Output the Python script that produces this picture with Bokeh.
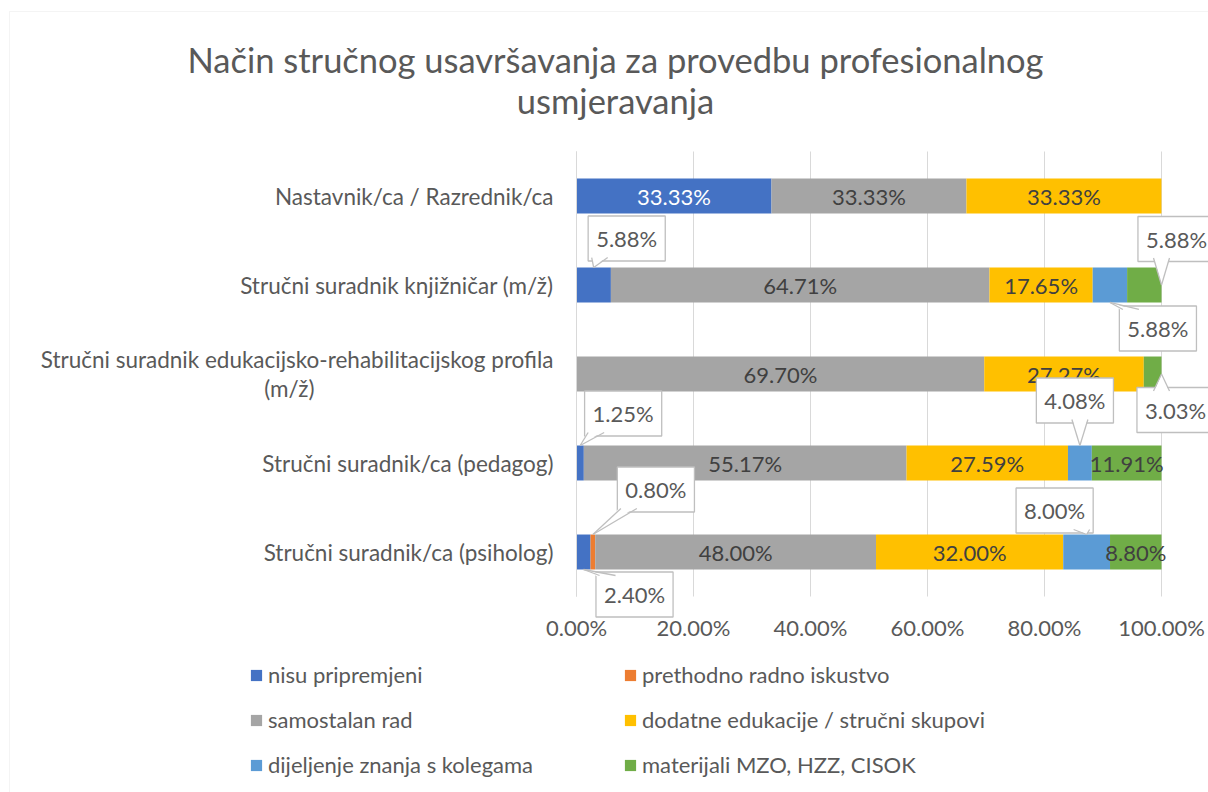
from bokeh.plotting import figure
from bokeh.models import (Range1d, FixedTicker, PrintfTickFormatter, Label, LinearAxis,
                          Legend, LegendItem, PolyAnnotation, Arrow, ColumnDataSource)
from bokeh.core.properties import value
from bokeh.embed import file_html
from bokeh.resources import INLINE

# ---------------- data ----------------
title_text = "Način stručnog usavršavanja za provedbu profesionalnog\nusmjeravanja"
categories = [
    "Nastavnik/ca / Razrednik/ca",
    "Stručni suradnik knjižničar (m/ž)",
    "Stručni suradnik edukacijsko-rehabilitacijskog profila\n(m/ž)",
    "Stručni suradnik/ca (pedagog)",
    "Stručni suradnik/ca (psiholog)",
]
series_names = [
    "nisu pripremjeni",
    "prethodno radno iskustvo",
    "samostalan rad",
    "dodatne edukacije / stručni skupovi",
    "dijeljenje znanja s kolegama",
    "materijali MZO, HZZ, CISOK",
]
nisu_pripremjeni = [33.33, 5.88, 0.0, 1.25, 2.40]
prethodno_iskustvo = [0.0, 0.0, 0.0, 0.0, 0.80]
samostalan_rad = [33.33, 64.71, 69.70, 55.17, 48.00]
dodatne_edukacije = [33.33, 17.65, 27.27, 27.59, 32.00]
dijeljenje_znanja = [0.0, 5.88, 0.0, 4.08, 8.00]
materijali = [0.0, 5.88, 3.03, 11.91, 8.80]
x_ticks = [0, 20, 40, 60, 80, 100]

series_values = [nisu_pripremjeni, prethodno_iskustvo, samostalan_rad,
                 dodatne_edukacije, dijeljenje_znanja, materijali]
colors = ["#4472C4", "#ED7D31", "#A5A5A5", "#FFC000", "#5B9BD5", "#70AD47"]

# callout placement (category index, series index, anchor, dx px, dy px downward)
callouts = [
    (1, 0, "top", 33, -29),
    (1, 5, "end", 15, -46),
    (1, 4, "bottom", 48, 26),
    (2, 5, "end", 14, 36),
    (3, 0, "top", 43, -32),
    (3, 4, "top", -5, -45),
    (4, 1, "top", 63, -45),
    (4, 0, "bottom", 51, 25),
    (4, 4, "top", -32, -24),
]

# ---------------- layout / style ----------------
FONT = "Lato"
TXT = "#595959"
W, H = 1208, 792
X0, X100 = 576, 1161          # pixel columns of 0 % and 100 %
Y_TOP, Y_BOT = 151, 596       # pixel rows of the plot area
N = len(categories)
PXX = (X100 - X0) / 100.0
PXY = (Y_BOT - Y_TOP) / N
BAR_H = 0.393
LINE_GAP = 29                 # px between wrapped label lines
WRAP_RIGHT_X = 314            # px right edge of the centred wrapped line

x_range = Range1d(-X0 / PXX, (W - X0) / PXX)
y_range = Range1d(-(H - Y_BOT) / PXY, Y_BOT / PXY)

p = figure(x_range=x_range, y_range=y_range, width=W, height=H, title=None,
           min_border_left=0, min_border_right=0, min_border_top=0, min_border_bottom=0,
           output_backend="svg", toolbar_location=None,
           outline_line_color=None, background_fill_color="white", border_fill_color="white")

ypos = [N - 0.5 - i for i in range(N)]
keys = [f"s{i}" for i in range(len(series_names))]
data = {"y": ypos}
for k, vals in zip(keys, series_values):
    data[k] = vals
src = ColumnDataSource(data)

# grid lines limited to plot area
grid_done = False
try:
    p.xgrid.grid_line_color = "#D9D9D9"
    p.xgrid.cross_bounds = (0, N)
    grid_done = True
except Exception:
    grid_done = False
if not grid_done:
    p.xgrid.grid_line_color = None
    p.segment(x0=x_ticks, y0=[0] * len(x_ticks), x1=x_ticks, y1=[N] * len(x_ticks),
              line_color="#D9D9D9", line_width=1)
p.ygrid.grid_line_color = None

renderers = p.hbar_stack(keys, y="y", height=BAR_H, color=colors, line_color=None, source=src)

# inside labels
callout_set = {(c, s) for c, s, *_ in callouts}
lx, ly, lt, lc = [], [], [], []
for ci in range(N):
    start = 0.0
    for si, vals in enumerate(series_values):
        v = vals[ci]
        if v > 0 and (ci, si) not in callout_set:
            lx.append(start + v / 2.0)
            ly.append(ypos[ci])
            lt.append(f"{v:.2f}%")
            lc.append("white" if si == 0 else "#404040")
        start += v
p.text(x="x", y="y", text="t", text_color="c", source=ColumnDataSource(dict(x=lx, y=ly, t=lt, c=lc)),
       text_align="center", text_baseline="middle", text_font=value(FONT), text_font_size="22px")

# callouts
BW, BH = 39, 19
for ci, si, anchor, dx, dy in callouts:
    start = sum(series_values[k][ci] for k in range(si))
    v = series_values[si][ci]
    yc = ypos[ci]
    if anchor == "end":
        tx, ty = start + v, yc
    elif anchor == "top":
        tx, ty = start + v / 2.0, yc + BAR_H / 2.0
    else:
        tx, ty = start + v / 2.0, yc - BAR_H / 2.0
    bx = tx + dx / PXX
    by = ty - dy / PXY
    p.add_layout(Label(x=bx, y=by, text=f"{v:.2f}%", text_align="center", text_baseline="middle",
                       text_font=FONT, text_font_size="22px", text_color=TXT,
                       background_fill_color="white", border_line_color="#BFBFBF",
                       border_line_width=1.3, padding=(8, 9)))
    tip_px = tx * PXX
    box_px = bx * PXX
    base_c = min(max(tip_px, box_px - BW + 12), box_px + BW - 12)
    edge = BH if dy < 0 else -BH
    inner = (BH - 2) if dy < 0 else -(BH - 2)
    b1x, b2x = (base_c - 8) / PXX, (base_c + 8) / PXX
    ey = by - edge / PXY
    iy = by - inner / PXY
    p.add_layout(PolyAnnotation(xs=[b1x, tx, b2x], ys=[iy, ty, iy],
                                fill_color="white", fill_alpha=1, line_color=None))
    for bxx in (b1x, b2x):
        p.add_layout(Arrow(end=None, x_start=bxx, y_start=ey, x_end=tx, y_end=ty,
                           line_color="#BFBFBF", line_width=1.3))

# title
p.add_layout(Label(x=615, y=H - 79, x_units="screen", y_units="screen", text=title_text,
                   text_align="center", text_baseline="middle", text_font=FONT,
                   text_font_size="34.5px", text_color=TXT, text_line_height=1.0))

# x axis, drawn at the bottom edge of the plot area
p.xaxis.fixed_location = 0
p.xaxis.bounds = (0, 100)
p.xaxis.ticker = FixedTicker(ticks=x_ticks)
p.xaxis.formatter = PrintfTickFormatter(format="%.2f%%")
p.xaxis.axis_line_color = None
p.xaxis.major_tick_line_color = None
p.xaxis.minor_tick_line_color = None
p.xaxis.major_tick_out = 0
p.xaxis.major_tick_in = 0
p.xaxis.major_label_standoff = 17
p.xaxis.major_label_text_font = FONT
p.xaxis.major_label_text_font_size = "22px"
p.xaxis.major_label_text_color = TXT

# category axis: first lines right-aligned, wrapped lines centred (as in Excel)
main_ticks, main_over, wrap_ticks, wrap_over = [], {}, [], {}
for y, c in zip(ypos, categories):
    lines = c.split("\n")
    if len(lines) == 1:
        main_ticks.append(y)
        main_over[y] = c
    else:
        y1 = y + (LINE_GAP / 2.0) / PXY
        y2 = y - (LINE_GAP / 2.0) / PXY
        main_ticks.append(y1)
        main_over[y1] = lines[0]
        wrap_ticks.append(y2)
        wrap_over[y2] = " ".join(lines[1:])

p.yaxis.fixed_location = 0
p.yaxis.bounds = (0, N)
p.yaxis.ticker = FixedTicker(ticks=main_ticks)
p.yaxis.major_label_overrides = main_over
p.yaxis.axis_line_color = "#D9D9D9"
p.yaxis.major_tick_line_color = None
p.yaxis.minor_tick_line_color = None
p.yaxis.major_tick_out = 0
p.yaxis.major_tick_in = 0
p.yaxis.major_label_standoff = 23
p.yaxis.major_label_text_font = FONT
p.yaxis.major_label_text_font_size = "22.5px"
p.yaxis.major_label_text_color = TXT

wrap_axis = LinearAxis(fixed_location=0, ticker=FixedTicker(ticks=wrap_ticks),
                       major_label_overrides=wrap_over, axis_line_color=None,
                       major_tick_line_color=None, minor_tick_line_color=None,
                       major_tick_out=0, major_tick_in=0,
                       major_label_standoff=X0 - WRAP_RIGHT_X,
                       major_label_text_font=FONT, major_label_text_font_size="22.5px",
                       major_label_text_color=TXT)
p.add_layout(wrap_axis, "left")

# legends (two columns)
def make_legend(idx, loc):
    lg = Legend(items=[LegendItem(label=series_names[i], renderers=[renderers[i]]) for i in idx],
                location=loc, orientation="vertical", glyph_width=14, glyph_height=14,
                label_height=27, spacing=18, label_standoff=5, padding=0, margin=0,
                border_line_color=None, background_fill_alpha=0,
                label_text_font=FONT, label_text_font_size="22px", label_text_color=TXT)
    p.add_layout(lg, "center")

make_legend([0, 2, 4], (249, H - 778))
make_legend([1, 3, 5], (623, H - 778))

# outer chart border (left and top edges)
p.add_layout(PolyAnnotation(xs=[9, 9, W + 20, W + 20], ys=[-20, H - 11, H - 11, -20],
                            xs_units="screen", ys_units="screen",
                            fill_alpha=0, line_color="#D9D9D9", line_width=1))

open("out.html", "w").write(file_html(p, INLINE))
